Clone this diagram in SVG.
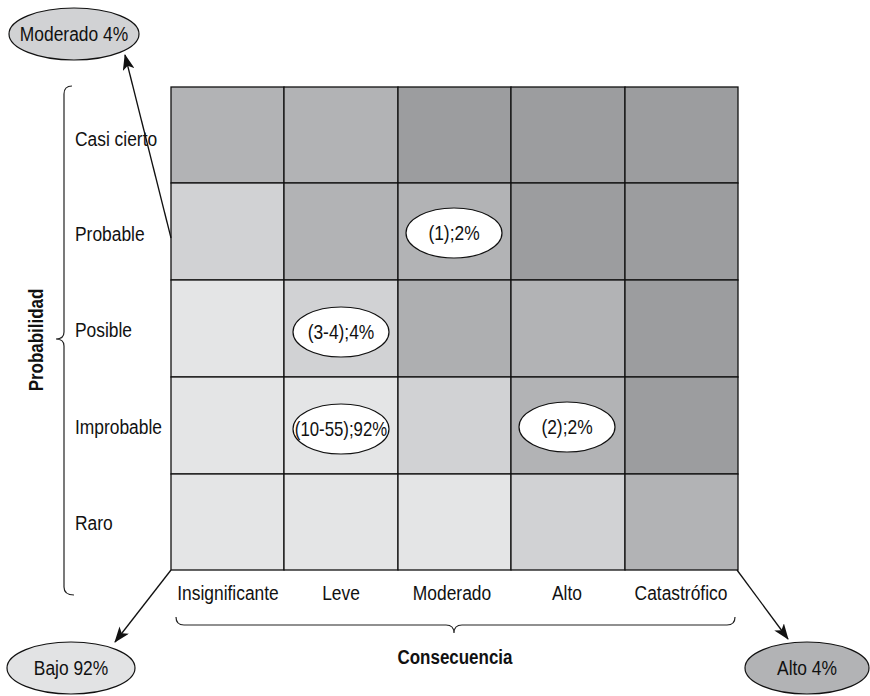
<svg xmlns="http://www.w3.org/2000/svg" width="870" height="696" viewBox="0 0 870 696">
<style>
.t{font-family:"Liberation Sans",Arial,sans-serif;font-size:20px;fill:#111}
.c{text-anchor:middle}
.b{font-weight:bold;font-size:19.5px}
.cell{stroke:#111;stroke-width:1.3}
.l1{fill:#e4e5e6}.l2{fill:#d1d2d4}.l3{fill:#b2b3b5}.l3b{fill:#aeafb1}.l4{fill:#9c9d9f}
.ov{fill:#fff;stroke:#111;stroke-width:1.2}
.br{fill:none;stroke:#222;stroke-width:1.2}
.ar{stroke:#111;stroke-width:1.3;fill:none;marker-end:url(#ah)}
</style>
<defs>
<marker id="ah" markerWidth="16" markerHeight="12" refX="15" refY="6" orient="auto" markerUnits="userSpaceOnUse">
<path d="M0,0 L16,6 L0,12 L4,6 Z" fill="#111"/>
</marker>
</defs>
<rect width="870" height="696" fill="#fff"/>
<g id="grid">
<rect class="cell l3" x="171" y="87" width="113" height="96"/>
<rect class="cell l3" x="284" y="87" width="114" height="96"/>
<rect class="cell l4" x="398" y="87" width="113" height="96"/>
<rect class="cell l4" x="511" y="87" width="114" height="96"/>
<rect class="cell l4" x="625" y="87" width="113" height="96"/>
<rect class="cell l2" x="171" y="183" width="113" height="97"/>
<rect class="cell l3" x="284" y="183" width="114" height="97"/>
<rect class="cell l3" x="398" y="183" width="113" height="97"/>
<rect class="cell l4" x="511" y="183" width="114" height="97"/>
<rect class="cell l4" x="625" y="183" width="113" height="97"/>
<rect class="cell l1" x="171" y="280" width="113" height="97"/>
<rect class="cell l2" x="284" y="280" width="114" height="97"/>
<rect class="cell l3b" x="398" y="280" width="113" height="97"/>
<rect class="cell l3" x="511" y="280" width="114" height="97"/>
<rect class="cell l4" x="625" y="280" width="113" height="97"/>
<rect class="cell l1" x="171" y="377" width="113" height="97"/>
<rect class="cell l1" x="284" y="377" width="114" height="97"/>
<rect class="cell l2" x="398" y="377" width="113" height="97"/>
<rect class="cell l3" x="511" y="377" width="114" height="97"/>
<rect class="cell l4" x="625" y="377" width="113" height="97"/>
<rect class="cell l1" x="171" y="474" width="113" height="96"/>
<rect class="cell l1" x="284" y="474" width="114" height="96"/>
<rect class="cell l1" x="398" y="474" width="113" height="96"/>
<rect class="cell l2" x="511" y="474" width="114" height="96"/>
<rect class="cell l3" x="625" y="474" width="113" height="96"/>
</g>
<g id="cell-labels">
<g id="c1"><ellipse class="ov" cx="454" cy="233" rx="48" ry="25"/><text class="t c" transform="translate(454,240) scale(0.87,1)">(1);2%</text></g>
<g id="c2"><ellipse class="ov" cx="341" cy="332" rx="48" ry="25"/><text class="t c" transform="translate(341,339) scale(0.87,1)">(3-4);4%</text></g>
<g id="c3"><ellipse class="ov" cx="341" cy="429" rx="48" ry="25"/><text class="t c" transform="translate(341,436) scale(0.84,1)">(10-55);92%</text></g>
<g id="c4"><ellipse class="ov" cx="567" cy="427" rx="48" ry="25"/><text class="t c" transform="translate(567,434) scale(0.87,1)">(2);2%</text></g>
</g>
<g id="row-labels">
<text class="t" transform="translate(75,146) scale(0.87,1)">Casi cierto</text>
<text class="t" transform="translate(75,241) scale(0.87,1)">Probable</text>
<text class="t" transform="translate(75,337) scale(0.87,1)">Posible</text>
<text class="t" transform="translate(75,434) scale(0.87,1)">Improbable</text>
<text class="t" transform="translate(75,530) scale(0.87,1)">Raro</text>
</g>
<g id="col-labels">
<text class="t c" transform="translate(228,600) scale(0.87,1)">Insignificante</text>
<text class="t c" transform="translate(341,600) scale(0.87,1)">Leve</text>
<text class="t c" transform="translate(452,600) scale(0.87,1)">Moderado</text>
<text class="t c" transform="translate(567,600) scale(0.87,1)">Alto</text>
<text class="t c" transform="translate(681,600) scale(0.87,1)">Catastrófico</text>
</g>
<g id="axis-prob">
<path class="br" d="M72,86 Q64,86 64,94 L64,332 Q64,339 56,339 Q64,339 64,346 L64,587 Q64,595 74,595"/>
<text class="t b c" transform="translate(43,340) rotate(-90) scale(0.87,1)">Probabilidad</text>
</g>
<g id="axis-cons">
<path class="br" d="M176,617 Q176,625 184,625 L446,625 Q454,625 454,633 Q454,625 462,625 L727,625 Q735,625 735,617"/>
<text class="t b c" transform="translate(455,664) scale(0.87,1)">Consecuencia</text>
</g>
<g id="node-moderado"><ellipse cx="74" cy="34" rx="65" ry="26" fill="#d1d2d4" stroke="#111" stroke-width="1.2"/><text class="t c" transform="translate(74,41) scale(0.87,1)">Moderado 4%</text></g>
<g id="node-bajo"><ellipse cx="71" cy="668" rx="64" ry="26" fill="#e2e3e4" stroke="#111" stroke-width="1.2"/><text class="t c" transform="translate(71,675) scale(0.87,1)">Bajo 92%</text></g>
<g id="node-alto"><ellipse cx="807" cy="668" rx="62" ry="26" fill="#b2b3b5" stroke="#111" stroke-width="1.2"/><text class="t c" transform="translate(807,675) scale(0.87,1)">Alto 4%</text></g>
<g id="connectors">
<line class="ar" x1="171" y1="238" x2="125" y2="55"/>
<line class="ar" x1="171" y1="570" x2="115" y2="642"/>
<line class="ar" x1="737" y1="570" x2="788" y2="639"/>
</g>
</svg>
